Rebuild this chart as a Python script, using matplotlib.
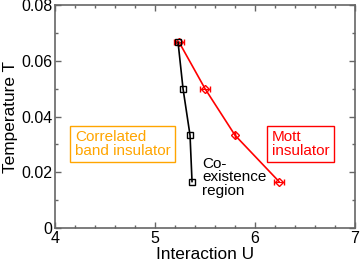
import matplotlib
matplotlib.use('Agg')
import matplotlib.pyplot as plt
from matplotlib.ticker import MultipleLocator

plt.rcParams['font.family'] = ['Liberation Sans', 'DejaVu Sans']

# coexistence boundary (black) and Mott boundary (red)
u_c1 = [5.23, 5.28, 5.35, 5.37]
t_c1 = [0.0667, 0.05, 0.0333, 0.0167]
u_c2 = [5.24, 5.50, 5.80, 6.24]
t_c2 = [0.0667, 0.05, 0.0333, 0.0167]
u_c2_err = [0.05, 0.05, 0.0, 0.05]

fig = plt.figure(figsize=(3.6, 2.64), dpi=100)
ax = fig.add_axes([0.153, 0.136, 0.833, 0.845])

ax.plot(u_c1, t_c1, color='black', lw=1.2, marker='s', ms=4,
        mfc='none', mec='black', mew=1.0, zorder=3)
ax.errorbar(u_c2, t_c2, xerr=u_c2_err, color='red', lw=1.2, marker='D',
            ms=4, mfc='none', mec='red', mew=1.0, ecolor='red',
            elinewidth=0.8, capsize=2, capthick=0.8, zorder=2)

ax.set_xlim(4, 7)
ax.set_ylim(0, 0.08)
ax.xaxis.set_major_locator(MultipleLocator(1))
ax.xaxis.set_minor_locator(MultipleLocator(0.2))
ax.yaxis.set_major_locator(MultipleLocator(0.02))
ax.yaxis.set_minor_locator(MultipleLocator(0.01))
ax.set_yticks([0, 0.02, 0.04, 0.06, 0.08])
ax.set_yticklabels(['0', '0.02', '0.04', '0.06', '0.08'])
ax.tick_params(which='both', direction='in', top=True, right=True,
               color='#666666', labelsize=11.5, pad=2)
ax.tick_params(which='major', length=4, width=1)
ax.tick_params(which='minor', length=2, width=1)
for s in ax.spines.values():
    s.set_color('#666666')
    s.set_linewidth(1.2)

ax.set_xlabel('Interaction U', fontsize=12.4, labelpad=1)
ax.set_ylabel('Temperature T', fontsize=12.4, labelpad=2)

ax.text(4.2, 0.0301, 'Correlated\nband insulator', color='#FFA500',
        fontsize=11, va='center', ha='left', linespacing=0.95,
        bbox=dict(boxstyle='square,pad=0.3', fc='white', ec='#FFA500', lw=1))
ax.text(6.17, 0.0301, 'Mott\ninsulator', color='red',
        fontsize=11, va='center', ha='left', linespacing=0.95,
        bbox=dict(boxstyle='square,pad=0.3', fc='white', ec='red', lw=1))
ax.text(5.47, 0.0183, 'Co-\nexistence\nregion', color='black',
        fontsize=11, va='center', ha='left', linespacing=0.95)

fig.savefig('out.png', dpi=100)
